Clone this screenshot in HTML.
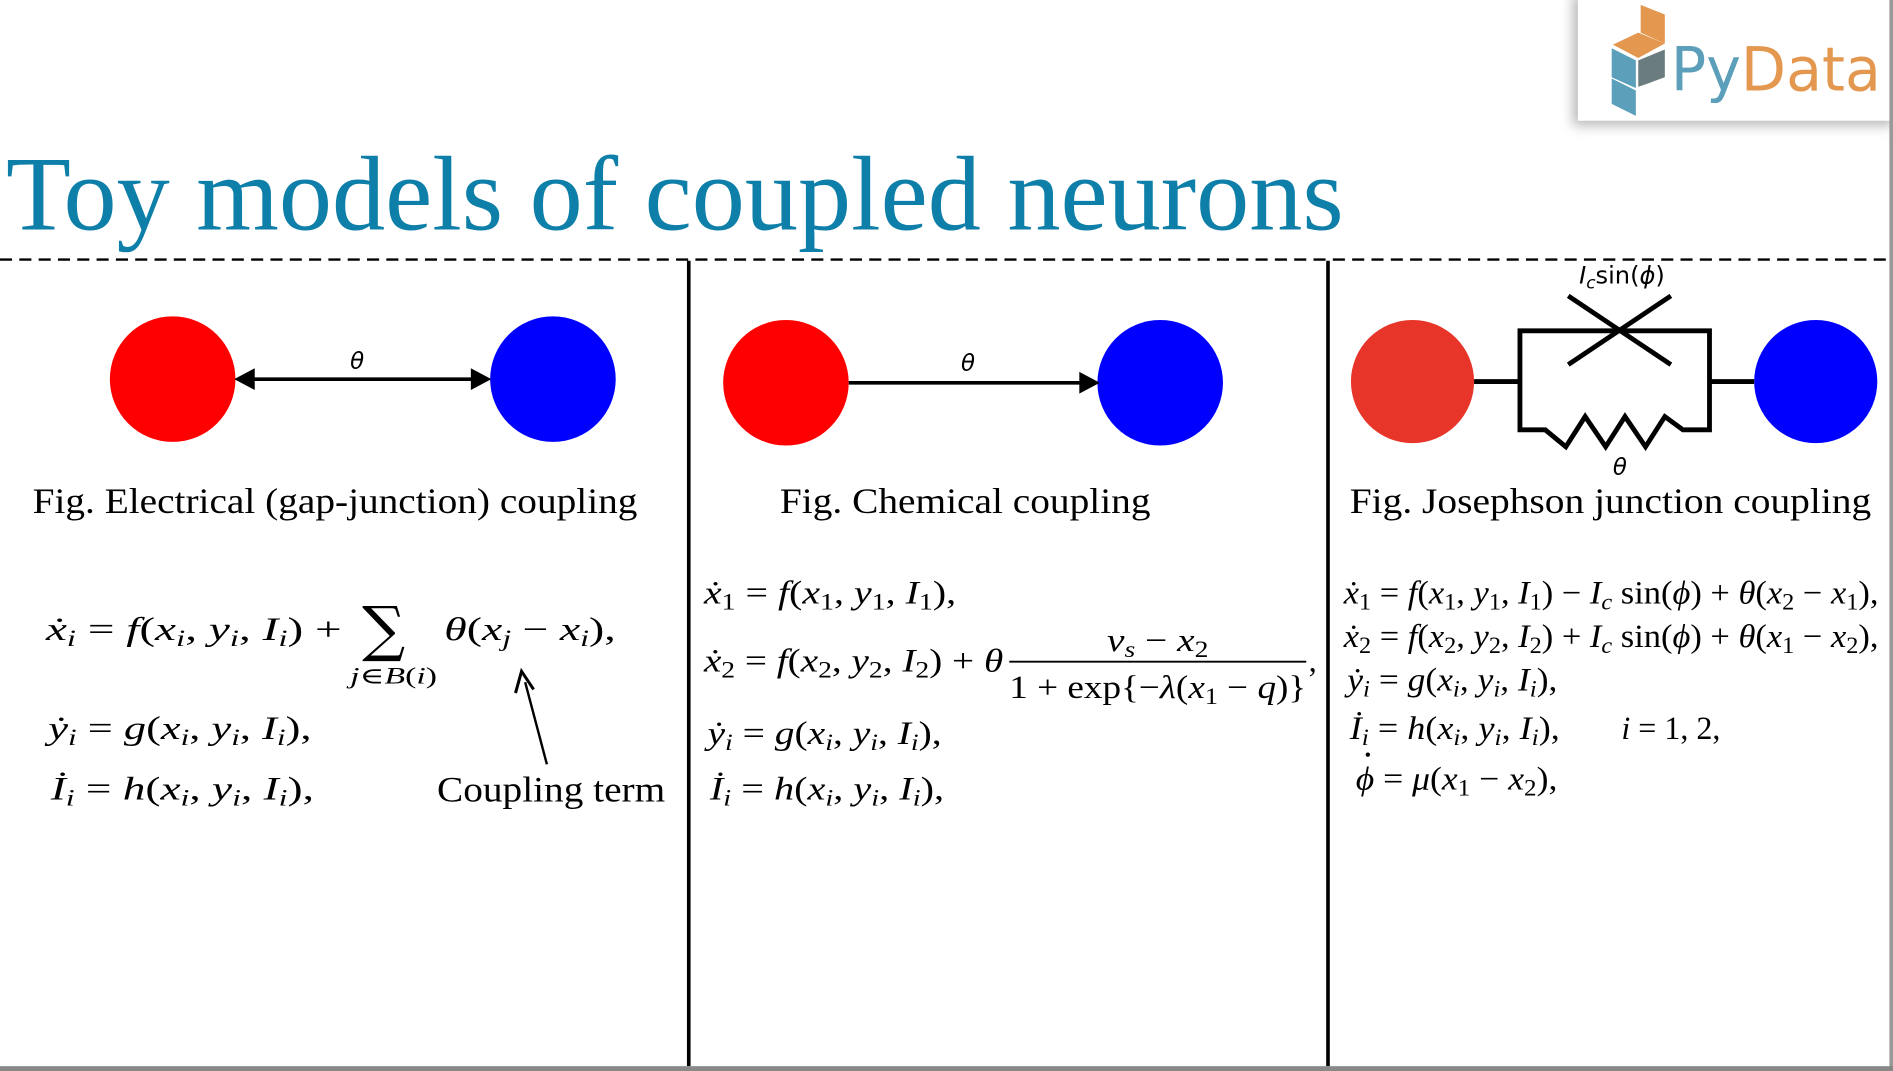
<!DOCTYPE html>
<html><head><meta charset="utf-8"><style>
html,body{margin:0;padding:0;background:#fff;width:1893px;height:1071px;overflow:hidden}
svg{display:block}
.m{font-family:"Liberation Serif","DejaVu Serif",serif;font-style:italic;font-size:27px;fill:#000}
.u{font-style:normal}
.s{font-size:19px}
.cap{font-family:"Liberation Serif",serif;font-size:30px;fill:#000}
.sf{font-family:"DejaVu Sans","Liberation Sans",sans-serif;font-style:italic;font-size:19px}
</style></head><body>
<svg width="1893" height="1071" viewBox="0 0 1568 887" preserveAspectRatio="none" xmlns="http://www.w3.org/2000/svg">
<defs>
<filter id="sh" x="-20%" y="-20%" width="140%" height="140%"><feGaussianBlur stdDeviation="5"/></filter>
</defs>
<rect width="1568" height="887" fill="#fff"/>
<!-- logo -->
<rect x="1303" y="-4" width="265" height="108" fill="#888" filter="url(#sh)" opacity="0.6"/>
<rect x="1307" y="0" width="261" height="100" fill="#fff"/>
<polygon points="1359,4 1379,12 1379,36 1359,27" fill="#e3974f"/>
<polygon points="1336,37 1357,27 1379,36 1357,48" fill="#e3974f"/>
<polygon points="1335,40 1355,50 1355,73 1335,64" fill="#5b9fba"/>
<polygon points="1357,50 1379,41 1379,64 1357,72" fill="#6a7c80"/>
<polygon points="1335,65 1355,75 1355,96 1335,86" fill="#5b9fba"/>
<text x="1384" y="75" font-family="DejaVu Sans,Liberation Sans,sans-serif" font-size="50" textLength="174" lengthAdjust="spacingAndGlyphs"><tspan fill="#5b9fba">Py</tspan><tspan fill="#e3974f">Data</tspan></text>
<!-- title -->
<text x="5" y="190" font-family="Liberation Serif,serif" font-size="88" fill="#0e7fa8" textLength="1108" lengthAdjust="spacingAndGlyphs">Toy models of coupled neurons</text>
<line x1="0" y1="215" x2="1568" y2="215" stroke="#000" stroke-width="2" stroke-dasharray="10,6"/>
<line x1="570.5" y1="216" x2="570.5" y2="883" stroke="#000" stroke-width="3"/>
<line x1="1100" y1="216" x2="1100" y2="883" stroke="#000" stroke-width="3"/>
<rect x="1565" y="0" width="3" height="887" fill="#999"/>
<rect x="0" y="883" width="1568" height="4" fill="#888"/>

<!-- panel 1 -->
<circle cx="143" cy="314" r="52" fill="#ff0000"/>
<circle cx="458" cy="314" r="52" fill="#0000ff"/>
<line x1="205" y1="314" x2="396" y2="314" stroke="#000" stroke-width="3"/>
<polygon points="194,314 211,305 211,323" fill="#000"/>
<polygon points="407,314 390,305 390,323" fill="#000"/>
<text class="sf" x="290" y="305">θ</text>
<text class="cap" x="27" y="425" textLength="501" lengthAdjust="spacingAndGlyphs">Fig. Electrical (gap-junction) coupling</text>
<text class="m" x="38" y="530" textLength="245" lengthAdjust="spacingAndGlyphs">ẋ<tspan class="s" dy="5">i</tspan><tspan dy="-5" class="u"> = </tspan>f<tspan class="u">(</tspan>x<tspan class="s" dy="5">i</tspan><tspan dy="-5" class="u">, </tspan>y<tspan class="s" dy="5">i</tspan><tspan dy="-5" class="u">, </tspan>I<tspan class="s" dy="5">i</tspan><tspan dy="-5" class="u">) +</tspan></text>
<text x="300" y="538" font-family="DejaVu Serif,serif" font-size="50">∑</text>
<text class="m s" x="290" y="566" textLength="72" lengthAdjust="spacingAndGlyphs">j<tspan class="u">∈</tspan>B<tspan class="u">(</tspan>i<tspan class="u">)</tspan></text>
<text class="m" x="368" y="530" textLength="142" lengthAdjust="spacingAndGlyphs">θ<tspan class="u">(</tspan>x<tspan class="s" dy="5">j</tspan><tspan dy="-5" class="u"> − </tspan>x<tspan class="s" dy="5">i</tspan><tspan dy="-5" class="u">),</tspan></text>
<text class="m" x="40" y="612" textLength="218" lengthAdjust="spacingAndGlyphs">ẏ<tspan class="s" dy="5">i</tspan><tspan dy="-5" class="u"> = </tspan>g<tspan class="u">(</tspan>x<tspan class="s" dy="5">i</tspan><tspan dy="-5" class="u">, </tspan>y<tspan class="s" dy="5">i</tspan><tspan dy="-5" class="u">, </tspan>I<tspan class="s" dy="5">i</tspan><tspan dy="-5" class="u">),</tspan></text>
<text class="m" x="42" y="662" textLength="218" lengthAdjust="spacingAndGlyphs">İ<tspan class="s" dy="5">i</tspan><tspan dy="-5" class="u"> = </tspan>h<tspan class="u">(</tspan>x<tspan class="s" dy="5">i</tspan><tspan dy="-5" class="u">, </tspan>y<tspan class="s" dy="5">i</tspan><tspan dy="-5" class="u">, </tspan>I<tspan class="s" dy="5">i</tspan><tspan dy="-5" class="u">),</tspan></text>
<text class="cap" x="362" y="664" textLength="189" lengthAdjust="spacingAndGlyphs">Coupling term</text>
<line x1="453" y1="633" x2="435" y2="565" stroke="#000" stroke-width="2"/>
<polyline points="427,574 432,556 442,571" fill="none" stroke="#000" stroke-width="2.5"/>

<!-- panel 2 -->
<circle cx="651" cy="317" r="52" fill="#ff0000"/>
<circle cx="961" cy="317" r="52" fill="#0000ff"/>
<line x1="703" y1="317" x2="898" y2="317" stroke="#000" stroke-width="3"/>
<polygon points="911,317 894,308 894,326" fill="#000"/>
<text class="sf" x="796" y="307">θ</text>
<text class="cap" x="646" y="425" textLength="307" lengthAdjust="spacingAndGlyphs">Fig. Chemical coupling</text>
<text class="m" x="583" y="500" textLength="209" lengthAdjust="spacingAndGlyphs">ẋ<tspan class="s u" dy="5">1</tspan><tspan dy="-5" class="u"> = </tspan>f<tspan class="u">(</tspan>x<tspan class="s u" dy="5">1</tspan><tspan dy="-5" class="u">, </tspan>y<tspan class="s u" dy="5">1</tspan><tspan dy="-5" class="u">, </tspan>I<tspan class="s u" dy="5">1</tspan><tspan dy="-5" class="u">),</tspan></text>
<text class="m" x="583" y="556" textLength="248" lengthAdjust="spacingAndGlyphs">ẋ<tspan class="s u" dy="5">2</tspan><tspan dy="-5" class="u"> = </tspan>f<tspan class="u">(</tspan>x<tspan class="s u" dy="5">2</tspan><tspan dy="-5" class="u">, </tspan>y<tspan class="s u" dy="5">2</tspan><tspan dy="-5" class="u">, </tspan>I<tspan class="s u" dy="5">2</tspan><tspan dy="-5" class="u">) + </tspan>θ</text>
<text class="m" x="917" y="539" textLength="84" lengthAdjust="spacingAndGlyphs">v<tspan class="s" dy="5">s</tspan><tspan dy="-5" class="u"> − </tspan>x<tspan class="s u" dy="5">2</tspan></text>
<line x1="836" y1="548" x2="1082" y2="548" stroke="#000" stroke-width="1.5"/>
<text class="m" x="836" y="578" textLength="246" lengthAdjust="spacingAndGlyphs"><tspan class="u">1 + exp{−</tspan>λ<tspan class="u">(</tspan>x<tspan class="s u" dy="5">1</tspan><tspan dy="-5" class="u"> − </tspan>q<tspan class="u">)}</tspan></text>
<text class="m u" x="1084" y="556">,</text>
<text class="m" x="586" y="616" textLength="194" lengthAdjust="spacingAndGlyphs">ẏ<tspan class="s" dy="5">i</tspan><tspan dy="-5" class="u"> = </tspan>g<tspan class="u">(</tspan>x<tspan class="s" dy="5">i</tspan><tspan dy="-5" class="u">, </tspan>y<tspan class="s" dy="5">i</tspan><tspan dy="-5" class="u">, </tspan>I<tspan class="s" dy="5">i</tspan><tspan dy="-5" class="u">),</tspan></text>
<text class="m" x="588" y="662" textLength="194" lengthAdjust="spacingAndGlyphs">İ<tspan class="s" dy="5">i</tspan><tspan dy="-5" class="u"> = </tspan>h<tspan class="u">(</tspan>x<tspan class="s" dy="5">i</tspan><tspan dy="-5" class="u">, </tspan>y<tspan class="s" dy="5">i</tspan><tspan dy="-5" class="u">, </tspan>I<tspan class="s" dy="5">i</tspan><tspan dy="-5" class="u">),</tspan></text>

<!-- panel 3 -->
<circle cx="1170" cy="316" r="51" fill="#e8352a"/>
<circle cx="1504" cy="316" r="51" fill="#0000ff"/>
<g stroke="#000" stroke-width="4" fill="none">
<line x1="1221" y1="316" x2="1259" y2="316"/>
<line x1="1416" y1="316" x2="1453" y2="316"/>
<polyline points="1259,316 1259,274 1416,274 1416,316"/>
<polyline points="1259,316 1259,356 1280,356 1297,370 1313,345 1330,370 1346,345 1363,370 1379,345 1394,356 1416,356 1416,316"/>
<line x1="1299" y1="245" x2="1384" y2="302"/>
<line x1="1384" y1="245" x2="1299" y2="302"/>
</g>
<text x="1308" y="235" font-family="DejaVu Sans,sans-serif" font-size="20"><tspan font-style="italic">I</tspan><tspan font-style="italic" font-size="14" dy="4">c</tspan><tspan dy="-4">sin(</tspan><tspan font-style="italic">ϕ</tspan>)</text>
<text class="sf" x="1336" y="393">θ</text>
<text class="cap" x="1118" y="425" textLength="432" lengthAdjust="spacingAndGlyphs">Fig. Josephson junction coupling</text>
<g font-size="26">
<text class="m" x="1113" y="500" textLength="443" lengthAdjust="spacingAndGlyphs">ẋ<tspan class="s u" dy="5">1</tspan><tspan dy="-5" class="u"> = </tspan>f<tspan class="u">(</tspan>x<tspan class="s u" dy="5">1</tspan><tspan dy="-5" class="u">, </tspan>y<tspan class="s u" dy="5">1</tspan><tspan dy="-5" class="u">, </tspan>I<tspan class="s u" dy="5">1</tspan><tspan dy="-5" class="u">) − </tspan>I<tspan class="s" dy="5">c</tspan><tspan dy="-5" class="u"> sin(</tspan>ϕ<tspan class="u">) + </tspan>θ<tspan class="u">(</tspan>x<tspan class="s u" dy="5">2</tspan><tspan dy="-5" class="u"> − </tspan>x<tspan class="s u" dy="5">1</tspan><tspan dy="-5" class="u">),</tspan></text>
<text class="m" x="1113" y="536" textLength="443" lengthAdjust="spacingAndGlyphs">ẋ<tspan class="s u" dy="5">2</tspan><tspan dy="-5" class="u"> = </tspan>f<tspan class="u">(</tspan>x<tspan class="s u" dy="5">2</tspan><tspan dy="-5" class="u">, </tspan>y<tspan class="s u" dy="5">2</tspan><tspan dy="-5" class="u">, </tspan>I<tspan class="s u" dy="5">2</tspan><tspan dy="-5" class="u">) + </tspan>I<tspan class="s" dy="5">c</tspan><tspan dy="-5" class="u"> sin(</tspan>ϕ<tspan class="u">) + </tspan>θ<tspan class="u">(</tspan>x<tspan class="s u" dy="5">1</tspan><tspan dy="-5" class="u"> − </tspan>x<tspan class="s u" dy="5">2</tspan><tspan dy="-5" class="u">),</tspan></text>
<text class="m" x="1116" y="572" textLength="174" lengthAdjust="spacingAndGlyphs">ẏ<tspan class="s" dy="5">i</tspan><tspan dy="-5" class="u"> = </tspan>g<tspan class="u">(</tspan>x<tspan class="s" dy="5">i</tspan><tspan dy="-5" class="u">, </tspan>y<tspan class="s" dy="5">i</tspan><tspan dy="-5" class="u">, </tspan>I<tspan class="s" dy="5">i</tspan><tspan dy="-5" class="u">),</tspan></text>
<text class="m" x="1118" y="612" textLength="174" lengthAdjust="spacingAndGlyphs">İ<tspan class="s" dy="5">i</tspan><tspan dy="-5" class="u"> = </tspan>h<tspan class="u">(</tspan>x<tspan class="s" dy="5">i</tspan><tspan dy="-5" class="u">, </tspan>y<tspan class="s" dy="5">i</tspan><tspan dy="-5" class="u">, </tspan>I<tspan class="s" dy="5">i</tspan><tspan dy="-5" class="u">),</tspan></text>
<text class="m" x="1343" y="612" textLength="82" lengthAdjust="spacingAndGlyphs">i<tspan class="u"> = 1, 2,</tspan></text>
<text class="m" x="1123" y="654" textLength="167" lengthAdjust="spacingAndGlyphs">ϕ<tspan class="u"> = </tspan>μ<tspan class="u">(</tspan>x<tspan class="s u" dy="5">1</tspan><tspan dy="-5" class="u"> − </tspan>x<tspan class="s u" dy="5">2</tspan><tspan dy="-5" class="u">),</tspan></text>
</g>
<circle cx="1133" cy="625" r="1.8" fill="#000"/>
</svg>
</body></html>
